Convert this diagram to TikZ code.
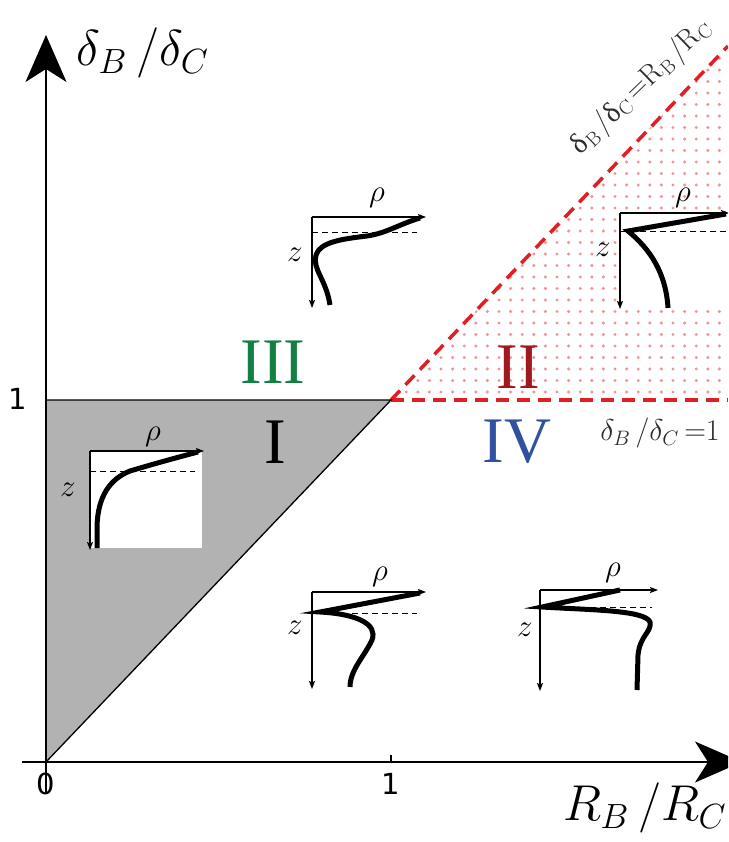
\documentclass[tikz,border=0pt]{standalone}
\usepackage{fontspec}
\usetikzlibrary{arrows.meta}
\newfontfamily\tickfont{DejaVu Sans}
\newfontfamily\romfont{Liberation Serif}
\definecolor{redline}{RGB}{225,30,35}
\definecolor{dotc}{RGB}{240,150,150}
\definecolor{greenIII}{RGB}{17,128,64}
\definecolor{redII}{RGB}{160,24,32}
\definecolor{blueIV}{RGB}{48,80,160}
\definecolor{labgray}{RGB}{45,45,45}
\newcommand\lsub[1]{\raisebox{-0.35ex}{\fontsize{20}{20}\selectfont #1}}
\tikzset{
  mainaxis/.style={line width=1.6pt,-{Stealth[length=47pt,width=41pt,inset=13pt]}},
  inaxis/.style={line width=1.2pt,-{Stealth[length=8pt,width=6pt,inset=1.5pt]}},
  prof/.style={line width=5pt,line join=miter,miter limit=20},
  indash/.style={line width=1pt,dash pattern=on 6pt off 4pt},
  reddash/.style={line width=3.5pt,redline,dash pattern=on 13pt off 8pt},
  roman/.style={font=\fontsize{65}{70}\romfont\selectfont,inner sep=0},
  ticklab/.style={font=\fontsize{29}{32}\tickfont\selectfont,inner sep=0},
  inlab/.style={font=\fontsize{20.74}{24}\selectfont,inner sep=0,scale=1.5},
  biglab/.style={font=\fontsize{20.74}{24}\selectfont,inner sep=0,scale=2.43},
}
\begin{document}
\begin{tikzpicture}[x=1pt,y=-1pt]
\useasboundingbox (0,0) rectangle (728,842);
\clip (0,0) rectangle (728,842);
\coordinate (O) at (46,762);
\coordinate (X1) at (391,762);
\coordinate (X1t) at (391,755);
\coordinate (Y1) at (46,400);
\coordinate (P) at (391,400);
\coordinate (RT) at (728,46);
\coordinate (RR) at (728,400);
\coordinate (YB) at (46,792);
\coordinate (YT) at (46,35);
\coordinate (XL) at (22,762);
\coordinate (XR) at (742,762);

% gray triangle
\fill[gray!60] (Y1) -- (P) -- (O) -- cycle;
% pink dots
\begin{scope}
\clip (P) -- (RT) -- (RR) -- cycle;
\foreach \i in {0,...,31}{
  \foreach \j in {0,...,31}{
    \fill[dotc] ({383+11.6*\i},{392-11.5*\j}) circle (1.7pt);
  }
}
\end{scope}
% white box of inset II
\fill[white] (620,213) rectangle (728,309);
% red dashed boundaries
\draw[reddash] (P) -- (RT);
\draw[reddash] (P) -- (RR);
% triangle edges
\draw[line width=1.3pt] (Y1) -- (P) -- (O);
% axes
\draw[mainaxis] (YB) -- (YT);
\draw[mainaxis] (XL) -- (XR);
\draw[line width=1.3pt] (X1) -- (X1t);

% tick labels
\node[ticklab] (t0) at (46,784) {0};
\node[ticklab] (t1) at (391,784) {1};
\node[ticklab] (ty1) at (18,399) {1};

% axis labels
\node[biglab] (ylab) at (143,53) {$\delta_B\,/\delta_C$};
\node[biglab] (xlab) at (645,808) {$R_B\,/R_C$};

% region labels
\node[roman,greenIII] (rIII) at (273,362) {III};
\node[roman,redII] (rII) at (518,367) {II};
\node[roman,black] (rI) at (275,442) {I};
\node[roman,blueIV] (rIV) at (517,442) {IV};

% boundary labels
\node[inner sep=0,labgray,font=\fontsize{20.74}{24}\selectfont,scale=1.45] (lh) at (660,433) {$\delta_B\,/\delta_C\,{=}1$};
\node[inner sep=0,labgray,rotate=44,font=\fontsize{29}{32}\selectfont] (ld) at (641,87)
  {{\romfont δ}\lsub{B}\,/{\romfont δ}\lsub{C}\,=R\lsub{B}\,/R\lsub{C}};

% inset I
\begin{scope}[shift={(90,451)}]
\fill[white] (0,0) rectangle (112,97);
\coordinate (a1) at (0,0); \coordinate (z1) at (0,99); \coordinate (r1) at (114,0);
\draw[indash] (0,20) -- (105,20);
\draw[inaxis] (a1) -- (z1);
\draw[inaxis] (a1) -- (r1);
\draw[prof] (7,97) -- (7,75) .. controls (8,45) and (20,28) .. (40,20) .. controls (60,14) and (85,7) .. (108,1);
\node[inlab] (rho1) at (63,-14) {$\rho$};
\node[inlab] (zz1) at (-22,39) {$z$};
\end{scope}

% inset III
\begin{scope}[shift={(312,217)}]
\coordinate (a3) at (0,0); \coordinate (z3) at (0,91); \coordinate (r3) at (114,0);
\draw[indash] (0,15) -- (105,15);
\draw[inaxis] (a3) -- (z3);
\draw[inaxis] (a3) -- (r3);
\draw[prof] (18,88) .. controls (14,62) and (0,52) .. (4,38) .. controls (8,25) and (30,22) .. (55,19) .. controls (75,16) and (85,8) .. (108,1);
\node[inlab] (rho3) at (65,-19) {$\rho$};
\node[inlab] (zz3) at (-17,38) {$z$};
\end{scope}

% inset II
\begin{scope}[shift={(620,213)}]
\coordinate (a2) at (0,0); \coordinate (z2) at (0,96); \coordinate (r2) at (109,0);
\draw[indash] (0,18) -- (112,18);
\draw[inaxis] (a2) -- (z2);
\draw[inaxis] (a2) -- (r2);
\draw[prof] (48,95) .. controls (46,60) and (30,36) .. (8,18) -- (106,1);
\node[inlab] (rho2) at (63,-15) {$\rho$};
\node[inlab] (zz2) at (-17,37) {$z$};
\end{scope}

% inset IV left
\begin{scope}[shift={(312,592)}]
\coordinate (a4) at (0,0); \coordinate (z4) at (0,97); \coordinate (r4) at (114,0);
\draw[indash] (40,21) -- (105,21);
\draw[inaxis] (a4) -- (z4);
\draw[inaxis] (a4) -- (r4);
\draw[prof] (108,1) -- (8,20) .. controls (45,22) and (66,32) .. (60,48) .. controls (52,65) and (38,78) .. (38,95);
\node[inlab] (rho4) at (68,-15) {$\rho$};
\node[inlab] (zz4) at (-17,36) {$z$};
\end{scope}

% inset IV right
\begin{scope}[shift={(540,590)}]
\coordinate (a5) at (0,0); \coordinate (z5) at (0,101); \coordinate (r5) at (118,0);
\draw[indash] (30,17) -- (112,17);
\draw[inaxis] (a5) -- (z5);
\draw[inaxis] (a5) -- (r5);
\draw[prof] (80,0) -- (2,17) .. controls (50,20) and (105,20) .. (110,32) .. controls (112,42) and (100,45) .. (98,65) -- (97,100);
\node[inlab] (rho5) at (73,-17) {$\rho$};
\node[inlab] (zz5) at (-15,40) {$z$};
\end{scope}
\end{tikzpicture}
\end{document}
